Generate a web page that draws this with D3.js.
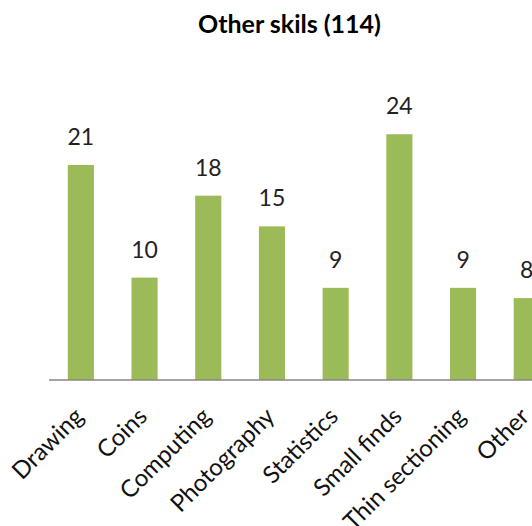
<!DOCTYPE html>
<html>
<head>
<meta charset="utf-8">
<script src="https://cdn.jsdelivr.net/npm/d3@7"></script>
<style>
  html, body { margin: 0; padding: 0; background: #fff; }
  svg { display: block; }
</style>
</head>
<body>
<svg id="chart" width="532" height="526"></svg>
<script>
// Skill categories and counts
const categories = ["Drawing", "Coins", "Computing", "Photography", "Statistics", "Small finds", "Thin sectioning", "Other"];
const counts = [21, 10, 18, 15, 9, 24, 9, 8];
const title = "Other skils (114)";

const width = 532, height = 526;
const svg = d3.select("#chart");

const axisY = 380;
const x = d3.scaleBand()
  .domain(categories)
  .range([49, 49 + 63.7 * categories.length])
  .paddingInner(0.59)
  .paddingOuter(0.295);

const y = d3.scaleLinear()
  .domain([0, 30])
  .range([axisY, axisY - 307.2]);

const font = "Lato, 'Open Sans', sans-serif";

// Title
svg.append("text")
  .attr("x", 289.5)
  .attr("y", 33)
  .attr("text-anchor", "middle")
  .attr("font-family", font)
  .attr("font-weight", "bold")
  .attr("font-size", 25)
  .attr("fill", "#000")
  .text(title);

// Bars
svg.append("g")
  .selectAll("rect")
  .data(categories)
  .join("rect")
  .attr("x", d => x(d))
  .attr("width", x.bandwidth())
  .attr("y", (d, i) => y(counts[i]))
  .attr("height", (d, i) => axisY - y(counts[i]))
  .attr("fill", "#9BBB59");

// Value labels
svg.append("g")
  .selectAll("text")
  .data(categories)
  .join("text")
  .attr("x", d => x(d) + x.bandwidth() / 2)
  .attr("y", (d, i) => y(counts[i]) - 20)
  .attr("text-anchor", "middle")
  .attr("font-family", font)
  .attr("font-size", 23)
  .attr("fill", "#222")
  .text((d, i) => counts[i]);

// Category axis
const xAxis = d3.axisBottom(x).tickSize(0).tickPadding(0);
const gx = svg.append("g")
  .attr("transform", `translate(0,${axisY})`)
  .call(xAxis);
gx.select(".domain").attr("stroke", "#868686").attr("stroke-width", 1.5)
  .attr("d", `M49,0H${width + 40}`);
gx.selectAll(".tick text")
  .attr("font-family", font)
  .attr("font-size", 24)
  .attr("fill", "#111")
  .attr("text-anchor", "end")
  .attr("dy", null)
  .attr("y", 0)
  .attr("transform", "translate(4,38) rotate(-45)");
</script>
</body>
</html>
